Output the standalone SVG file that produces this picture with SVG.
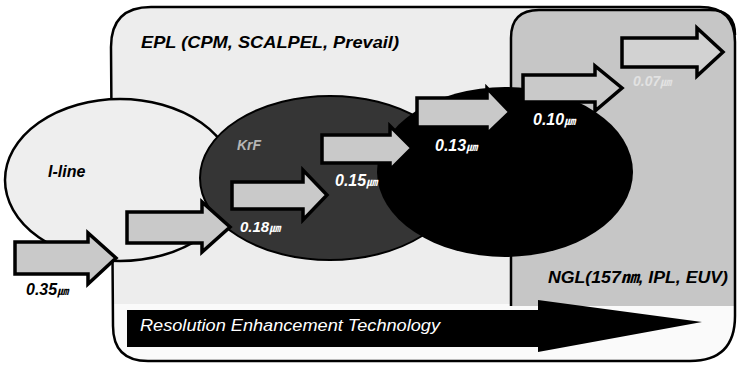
<svg xmlns="http://www.w3.org/2000/svg" width="737" height="367" viewBox="0 0 737 367">
<defs>
<style>
.lbl{font-family:"Liberation Sans","Noto Sans CJK KR",sans-serif;font-style:italic;font-weight:bold}
.blk{fill:#000}
.wht{fill:#fff}
.arr{fill:#c9c9c9;stroke:#000;stroke-width:3.5;stroke-linejoin:miter}
.u{font-size:11px}
</style>
<clipPath id="mainClip">
<path d="M111,47 Q111,7 151,7 H700 Q735,7 735,42 V316 Q735,361 690,361 H148 Q113,361 113,326 Z"/>
</clipPath>
</defs>
<rect width="737" height="367" fill="#fff"/>
<g id="epl">
<path d="M111,47 Q111,7 151,7 H700 Q735,7 735,42 V316 Q735,361 690,361 H148 Q113,361 113,326 Z" fill="#ededed"/>
<rect x="100" y="304" width="640" height="60" fill="#fafafa" clip-path="url(#mainClip)"/>
</g>
<g id="ngl">
<path d="M511,306 V38 Q511,10 539,10 H710 Q735,10 735,35 V306 Z" fill="#c6c6c6" clip-path="url(#mainClip)"/>
<path d="M511,306 V38 Q511,10 539,10 H710 Q735,10 735,35" fill="none" stroke="#000" stroke-width="2.5"/>
</g>
<g id="epl-outline">
<path d="M111,47 Q111,7 151,7 H700 Q735,7 735,42 V316 Q735,361 690,361 H148 Q113,361 113,326 Z" fill="none" stroke="#000" stroke-width="2.5"/>
</g>
<g id="iline">
<ellipse cx="120" cy="180" rx="115" ry="81" fill="#eeeeee" stroke="#000" stroke-width="2.5"/>
</g>
<g id="krf">
<ellipse cx="330" cy="178" rx="130" ry="82" fill="#353535" stroke="#000" stroke-width="2"/>
</g>
<g id="arf">
<ellipse cx="505" cy="172" rx="128" ry="85" fill="#000"/>
</g>
<g id="connectors">
<path class="arr" d="M15,242 H88 V233 L116,258 L88,284 V274 H15 Z"/>
<path class="arr" d="M127,212 H202 V202 L230,227 L202,252 V243 H127 Z"/>
<path class="arr" d="M232,182 H303 V170 L327,195 L303,220 V209 H232 Z"/>
<path class="arr" d="M322,135 H390 V126 L412,148 L390,170 V163 H322 Z"/>
<path class="arr" d="M417,98 H487 V88 L510,112 L487,134 V127 H417 Z"/>
<path class="arr" d="M523,75 H595 V66 L622,88 L595,111 V102 H523 Z"/>
<path class="arr" style="fill:#d2d2d2" d="M622,38 H697 V28 L723,52 L697,76 V67 H622 Z"/>
</g>
<g id="ret">
<path d="M127,310 H538 V300 L702,322 L538,352 V347 H127 Z" fill="#000"/>
<text class="lbl wht" x="140" y="331" font-size="16" textLength="300" lengthAdjust="spacingAndGlyphs" style="font-weight:normal">Resolution Enhancement Technology</text>
</g>
<g id="texts">
<text class="lbl blk" x="141" y="48" font-size="17" textLength="258" lengthAdjust="spacingAndGlyphs">EPL (CPM, SCALPEL, Prevail)</text>
<text class="lbl blk" x="48" y="177" font-size="16">I-line</text>
<text class="lbl" x="237" y="150" font-size="14" fill="#b5b5b5">KrF</text>
<text class="lbl blk" x="548" y="283" font-size="16" textLength="180" lengthAdjust="spacingAndGlyphs">NGL(157㎚, IPL, EUV)</text>
<text class="lbl blk" x="26" y="295" font-size="16">0.35<tspan class="u">㎛</tspan></text>
<text class="lbl wht" x="240" y="232" font-size="15">0.18<tspan class="u">㎛</tspan></text>
<text class="lbl wht" x="335" y="186" font-size="16">0.15<tspan class="u">㎛</tspan></text>
<text class="lbl wht" x="435" y="151" font-size="16">0.13<tspan class="u">㎛</tspan></text>
<text class="lbl wht" x="533" y="125" font-size="16">0.10<tspan class="u">㎛</tspan></text>
<text class="lbl" x="633" y="86" font-size="14" fill="#e2e2e2">0.07<tspan class="u">㎛</tspan></text>
</g>
</svg>
